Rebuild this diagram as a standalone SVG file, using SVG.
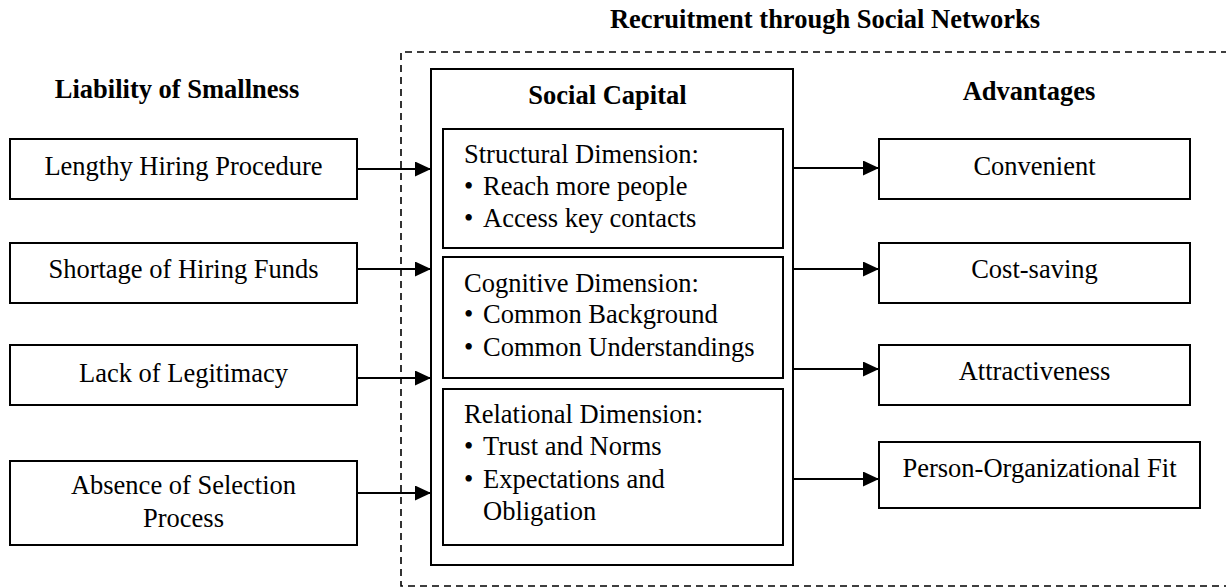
<svg xmlns="http://www.w3.org/2000/svg" width="1226" height="588" viewBox="0 0 1226 588">
<style>
text{font-family:"Liberation Serif","Times New Roman",serif;font-size:26.5px;fill:#000}
.b{font-weight:bold}
.c{text-anchor:middle}
.box{fill:#fff;stroke:#000;stroke-width:2}
.con{stroke:#000;stroke-width:2;fill:none}
.dash{fill:none;stroke:#000;stroke-width:1.6;stroke-dasharray:7 5}
</style>
<defs>
<marker id="ah" markerUnits="userSpaceOnUse" markerWidth="16" markerHeight="16" refX="16" refY="7.5" orient="auto">
<path d="M0,0 L16,7.5 L0,15 z" fill="#000"/>
</marker>
</defs>
<rect width="1226" height="588" fill="#fff"/>
<g id="container">
<path class="dash" d="M1240,52 H401 V586 H1240"/>
<text class="b c" x="825" y="28">Recruitment through Social Networks</text>
</g>
<g id="headers">
<text class="b c" x="177" y="98">Liability of Smallness</text>
<text class="b c" x="1029" y="100">Advantages</text>
</g>
<g id="lengthy"><rect class="box" x="10" y="139" width="347" height="60"/><text class="c" x="183.5" y="175">Lengthy Hiring Procedure</text></g>
<g id="shortage"><rect class="box" x="10" y="243" width="347" height="60"/><text class="c" x="183.5" y="278">Shortage of Hiring Funds</text></g>
<g id="legitimacy"><rect class="box" x="10" y="345" width="347" height="60"/><text class="c" x="183.5" y="382">Lack of Legitimacy</text></g>
<g id="absence"><rect class="box" x="10" y="461" width="347" height="84"/><text class="c" x="183.5" y="494">Absence of Selection</text><text class="c" x="183.5" y="527">Process</text></g>
<g id="social-capital">
<rect class="box" x="431" y="69" width="362" height="496"/>
<text class="b c" x="607.5" y="104">Social Capital</text>
</g>
<g id="structural"><rect class="box" x="443" y="129" width="340" height="119"/>
<text x="464" y="163">Structural Dimension:</text>
<text x="464" y="195">• <tspan x="483">Reach more people</tspan></text>
<text x="464" y="227">• <tspan x="483">Access key contacts</tspan></text></g>
<g id="cognitive"><rect class="box" x="443" y="257" width="340" height="121"/>
<text x="464" y="292">Cognitive Dimension:</text>
<text x="464" y="323">• <tspan x="483">Common Background</tspan></text>
<text x="464" y="356">• <tspan x="483">Common Understandings</tspan></text></g>
<g id="relational"><rect class="box" x="443" y="389" width="340" height="156"/>
<text x="464" y="423">Relational Dimension:</text>
<text x="464" y="455">• <tspan x="483">Trust and Norms</tspan></text>
<text x="464" y="488">• <tspan x="483">Expectations and</tspan></text>
<text x="483" y="520">Obligation</text></g>
<g id="convenient"><rect class="box" x="879" y="139" width="311" height="60"/><text class="c" x="1034.5" y="175">Convenient</text></g>
<g id="cost-saving"><rect class="box" x="879" y="243" width="311" height="60"/><text class="c" x="1034.5" y="278">Cost-saving</text></g>
<g id="attractiveness"><rect class="box" x="879" y="345" width="311" height="60"/><text class="c" x="1034.5" y="380">Attractiveness</text></g>
<g id="person-fit"><rect class="box" x="879" y="442" width="321" height="66"/><text class="c" x="1039.5" y="477">Person-Organizational Fit</text></g>
<g id="connectors">
<line class="con" x1="357" y1="169" x2="431" y2="169" marker-end="url(#ah)"/>
<line class="con" x1="357" y1="269" x2="431" y2="269" marker-end="url(#ah)"/>
<line class="con" x1="357" y1="378" x2="431" y2="378" marker-end="url(#ah)"/>
<line class="con" x1="357" y1="493" x2="431" y2="493" marker-end="url(#ah)"/>
<line class="con" x1="793" y1="168" x2="879" y2="168" marker-end="url(#ah)"/>
<line class="con" x1="793" y1="269" x2="879" y2="269" marker-end="url(#ah)"/>
<line class="con" x1="793" y1="369" x2="879" y2="369" marker-end="url(#ah)"/>
<line class="con" x1="793" y1="479" x2="879" y2="479" marker-end="url(#ah)"/>
</g>
</svg>
